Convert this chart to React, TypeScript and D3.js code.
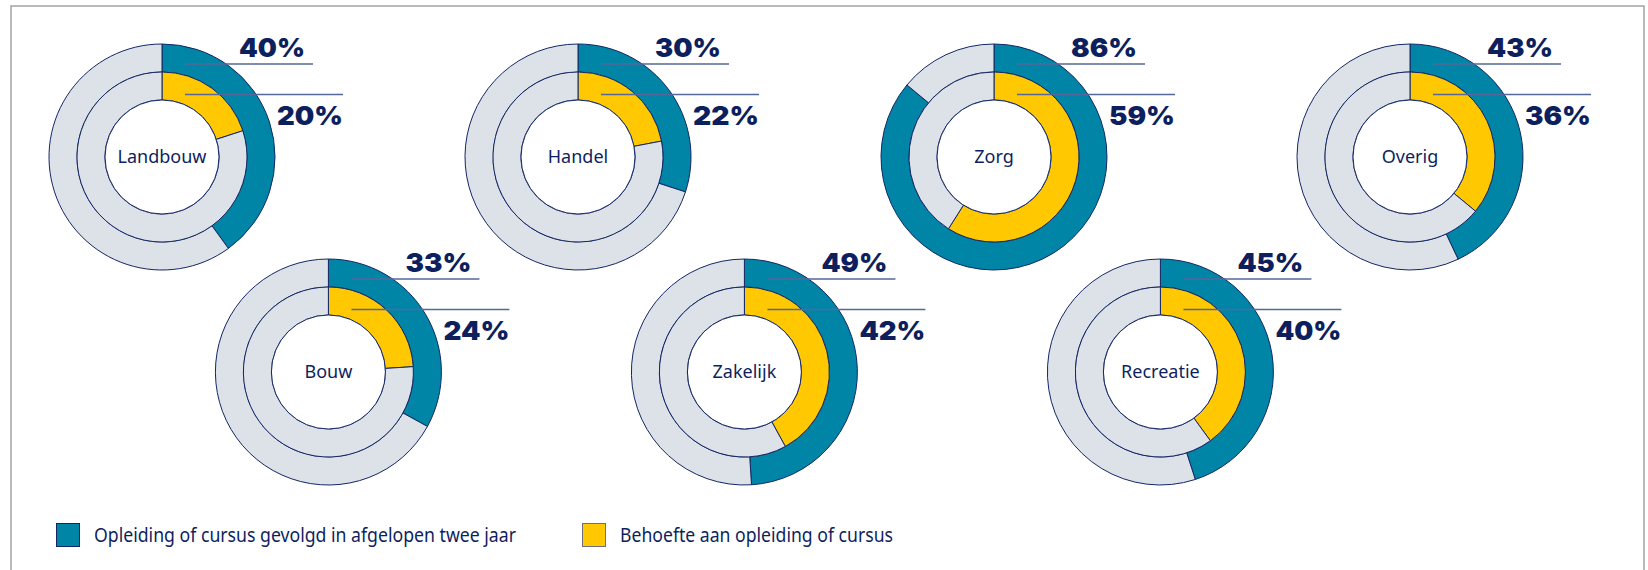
import React from "react";
import * as d3 from "d3";

const categories = ["Landbouw", "Handel", "Zorg", "Overig", "Bouw", "Zakelijk", "Recreatie"];
const gevolgd = [40, 30, 86, 43, 33, 49, 45];
const behoefte = [20, 22, 59, 36, 24, 42, 40];
const legendLabels = ["Opleiding of cursus gevolgd in afgelopen twee jaar", "Behoefte aan opleiding of cursus"];

// layout: column index (fractional) and row for each category
const LAYOUT_COL = [0, 1, 2, 3, 0.4, 1.4, 2.4];
const LAYOUT_ROW = [0, 0, 0, 0, 1, 1, 1];

const W = 1648;
const H = 570;
const TEAL = "#0085a7";
const YELLOW = "#ffc800";
const GREY = "#dde1e8";
const NAVY = "#132765";
const TEXT = "#0e1f5e";
const LINE = "#56679a";

const R_OUT = 113;
const R_MID = 85;
const R_IN = 57;

export default function App() {
  const x = d3.scaleLinear().domain([0, 3]).range([162, 1410]);
  const y = d3.scaleLinear().domain([0, 1]).range([157, 372]);
  const pie = d3.pie<number>().sort(null).value((d) => d);
  const outerArc = d3.arc<d3.PieArcDatum<number>>().innerRadius(R_MID).outerRadius(R_OUT);
  const innerArc = d3.arc<d3.PieArcDatum<number>>().innerRadius(R_IN).outerRadius(R_MID);

  return (
    <svg
      width={W}
      height={H}
      style={{ position: "absolute", left: 0, top: 0, background: "#fff" }}
      fontFamily="'Noto Sans', sans-serif"
    >
      <rect x={11} y={6} width={1633} height={600} fill="none" stroke="#a3a3a3" strokeWidth={1.5} />
      {categories.map((cat, i) => {
        const cx = x(LAYOUT_COL[i]);
        const cy = y(LAYOUT_ROW[i]);
        const oArcs = pie([gevolgd[i], 100 - gevolgd[i]]);
        const iArcs = pie([behoefte[i], 100 - behoefte[i]]);
        return (
          <g key={cat} transform={`translate(${cx},${cy})`}>
            {oArcs.map((a, j) => (
              <path key={"o" + j} d={outerArc(a) || ""} fill={j === 0 ? TEAL : GREY} stroke={NAVY} strokeWidth={1} />
            ))}
            {iArcs.map((a, j) => (
              <path key={"i" + j} d={innerArc(a) || ""} fill={j === 0 ? YELLOW : GREY} stroke={NAVY} strokeWidth={1} />
            ))}
            <circle r={R_IN} fill="#fff" stroke={NAVY} strokeWidth={1} />
            <text x={0} y={0} dy="0.35em" textAnchor="middle" fontSize={18} fill={TEXT}>
              {cat}
            </text>
            <line x1={23} x2={151} y1={-93} y2={-93} stroke={LINE} strokeWidth={1.5} />
            <line x1={23} x2={181} y1={-62.5} y2={-62.5} stroke={LINE} strokeWidth={1.5} />
            <text
              x={143}
              y={-100}
              textAnchor="end"
              fontFamily="Inter, 'Noto Sans', sans-serif"
              fontWeight={900}
              fontSize={26}
              fill={TEXT}
              textLength={66}
              lengthAdjust="spacingAndGlyphs"
            >
              {gevolgd[i]}%
            </text>
            <text
              x={181}
              y={-32}
              textAnchor="end"
              fontFamily="Inter, 'Noto Sans', sans-serif"
              fontWeight={900}
              fontSize={26}
              fill={TEXT}
              textLength={66}
              lengthAdjust="spacingAndGlyphs"
            >
              {behoefte[i]}%
            </text>
          </g>
        );
      })}
      <g>
        <rect x={56.5} y={523.5} width={23} height={23} fill={TEAL} stroke={NAVY} strokeWidth={1} />
        <text x={94} y={542} fontSize={20} fill={TEXT} textLength={422} lengthAdjust="spacingAndGlyphs">
          {legendLabels[0]}
        </text>
        <rect x={582.5} y={523.5} width={23} height={23} fill={YELLOW} stroke="#6b6f80" strokeWidth={1} />
        <text x={620} y={542} fontSize={20} fill={TEXT} textLength={273} lengthAdjust="spacingAndGlyphs">
          {legendLabels[1]}
        </text>
      </g>
    </svg>
  );
}
